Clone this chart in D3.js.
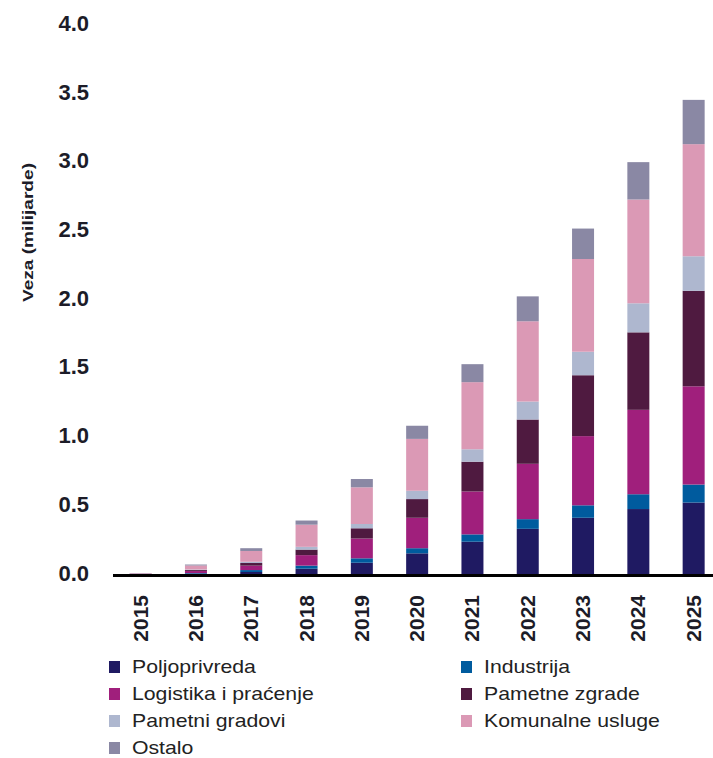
<!DOCTYPE html>
<html>
<head>
<meta charset="utf-8">
<script src="https://cdn.jsdelivr.net/npm/d3@7"></script>
<style>
    html, body { margin: 0; padding: 0; background: #fff; }
    svg { display: block; font-family: "Liberation Sans", Arial, sans-serif; }
</style>
</head>
<body>
<div id="chart"></div>
<script>
// Godine
const years = ['2015', '2016', '2017', '2018', '2019', '2020', '2021', '2022', '2023', '2024', '2025'];

// Serije (milijarde veza) po godinama
const seriesNames = ['Poljoprivreda', 'Industrija', 'Logistika i praćenje', 'Pametne zgrade',
    'Pametni gradovi', 'Komunalne usluge', 'Ostalo'];

const poljoprivreda   = [0.002, 0.005, 0.018, 0.042, 0.085, 0.153, 0.237, 0.33, 0.41, 0.473, 0.52];
const industrija      = [0.001, 0.005, 0.014, 0.022, 0.032, 0.037, 0.053, 0.07, 0.09, 0.107, 0.13];
const logistika       = [0.002, 0.015, 0.032, 0.076, 0.143, 0.22, 0.31, 0.40, 0.50, 0.61, 0.71];
const pametneZgrade   = [0.001, 0.007, 0.019, 0.04, 0.074, 0.135, 0.215, 0.32, 0.44, 0.56, 0.69];
const pametniGradovi  = [0.001, 0.004, 0.009, 0.02, 0.031, 0.06, 0.09, 0.13, 0.17, 0.21, 0.25];
const komunalne       = [0.002, 0.029, 0.078, 0.16, 0.265, 0.375, 0.485, 0.58, 0.67, 0.75, 0.81];
const ostalo          = [0.001, 0.007, 0.02, 0.03, 0.06, 0.095, 0.13, 0.18, 0.22, 0.27, 0.32];

const yTicks = [0, 0.5, 1, 1.5, 2, 2.5, 3, 3.5, 4];

const colors = ['#1f1a62', '#005b9e', '#a01f7c', '#4f1a40', '#aeb7cf', '#db99b5', '#8a88a4'];

const rows = years.map((y, i) => ({
    year: y,
    'Poljoprivreda': poljoprivreda[i],
    'Industrija': industrija[i],
    'Logistika i praćenje': logistika[i],
    'Pametne zgrade': pametneZgrade[i],
    'Pametni gradovi': pametniGradovi[i],
    'Komunalne usluge': komunalne[i],
    'Ostalo': ostalo[i]
}));

const width = 713, height = 758;
const textColor = '#1c1c28';

const svg = d3.select('#chart').append('svg')
    .attr('width', width)
    .attr('height', height);

const x = d3.scaleBand()
    .domain(years)
    .range([113, 721.3])
    .padding(0);
const barW = 22;

const y = d3.scaleLinear()
    .domain([0, 4])
    .range([574.5, 21]);

// oznake na osi su malo pomaknute u odnosu na stupce
const yLab = d3.scaleLinear()
    .domain([0, 4])
    .range([573, 23.5]);

const color = d3.scaleOrdinal().domain(seriesNames).range(colors);

const stacked = d3.stack().keys(seriesNames)(rows);

// Stupci
svg.append('g')
    .selectAll('g')
    .data(stacked)
    .join('g')
    .attr('fill', d => color(d.key))
    .selectAll('rect')
    .data(d => d)
    .join('rect')
    .attr('x', d => x(d.data.year) + x.bandwidth() / 2 - barW / 2)
    .attr('y', d => y(d[1]))
    .attr('width', barW)
    .attr('height', d => Math.max(0, y(d[0]) - y(d[1])));

// Y os (samo oznake)
const yAxis = svg.append('g')
    .attr('transform', 'translate(89,0)')
    .call(d3.axisLeft(yLab).tickValues(yTicks).tickFormat(d3.format('.1f')).tickSize(0).tickPadding(0));
yAxis.select('.domain').remove();
yAxis.selectAll('text')
    .attr('font-size', 22)
    .attr('font-weight', 'bold')
    .attr('font-family', '"Liberation Sans", Arial, sans-serif')
    .attr('fill', textColor);

// X os linija
svg.append('line')
    .attr('x1', 113).attr('x2', width)
    .attr('y1', y(0) + 1).attr('y2', y(0) + 1)
    .attr('stroke', '#000')
    .attr('stroke-width', 3);

// Godine (rotirane)
svg.append('g')
    .selectAll('text')
    .data(years)
    .join('text')
    .attr('transform', d => `translate(${x(d) + x.bandwidth() / 2 + 7},595) rotate(-90)`)
    .attr('text-anchor', 'end')
    .attr('font-size', 21)
    .attr('font-weight', 'bold')
    .attr('fill', textColor)
    .text(d => d);

// Naslov Y osi
svg.append('text')
    .attr('transform', 'translate(33,232.5) rotate(-90)')
    .attr('text-anchor', 'middle')
    .attr('font-size', 15)
    .attr('font-weight', 'bold')
    .attr('fill', textColor)
    .attr('textLength', 139)
    .attr('lengthAdjust', 'spacingAndGlyphs')
    .text('Veza (milijarde)');

// Legenda
const legend = svg.append('g');
const legItems = legend.selectAll('g')
    .data(seriesNames)
    .join('g')
    .attr('transform', (d, i) => {
        const col = i % 2, row = Math.floor(i / 2);
        return `translate(${col === 0 ? 109 : 461},${667 + row * 27})`;
    });
legItems.append('rect')
    .attr('x', 0).attr('y', -6)
    .attr('width', 11).attr('height', 12)
    .attr('fill', d => color(d));
legItems.append('text')
    .attr('transform', 'translate(23,0) scale(1.18,1)')
    .attr('dy', '0.35em')
    .attr('font-size', 18)
    .attr('fill', '#222')
    .text(d => d);
</script>
</body>
</html>
